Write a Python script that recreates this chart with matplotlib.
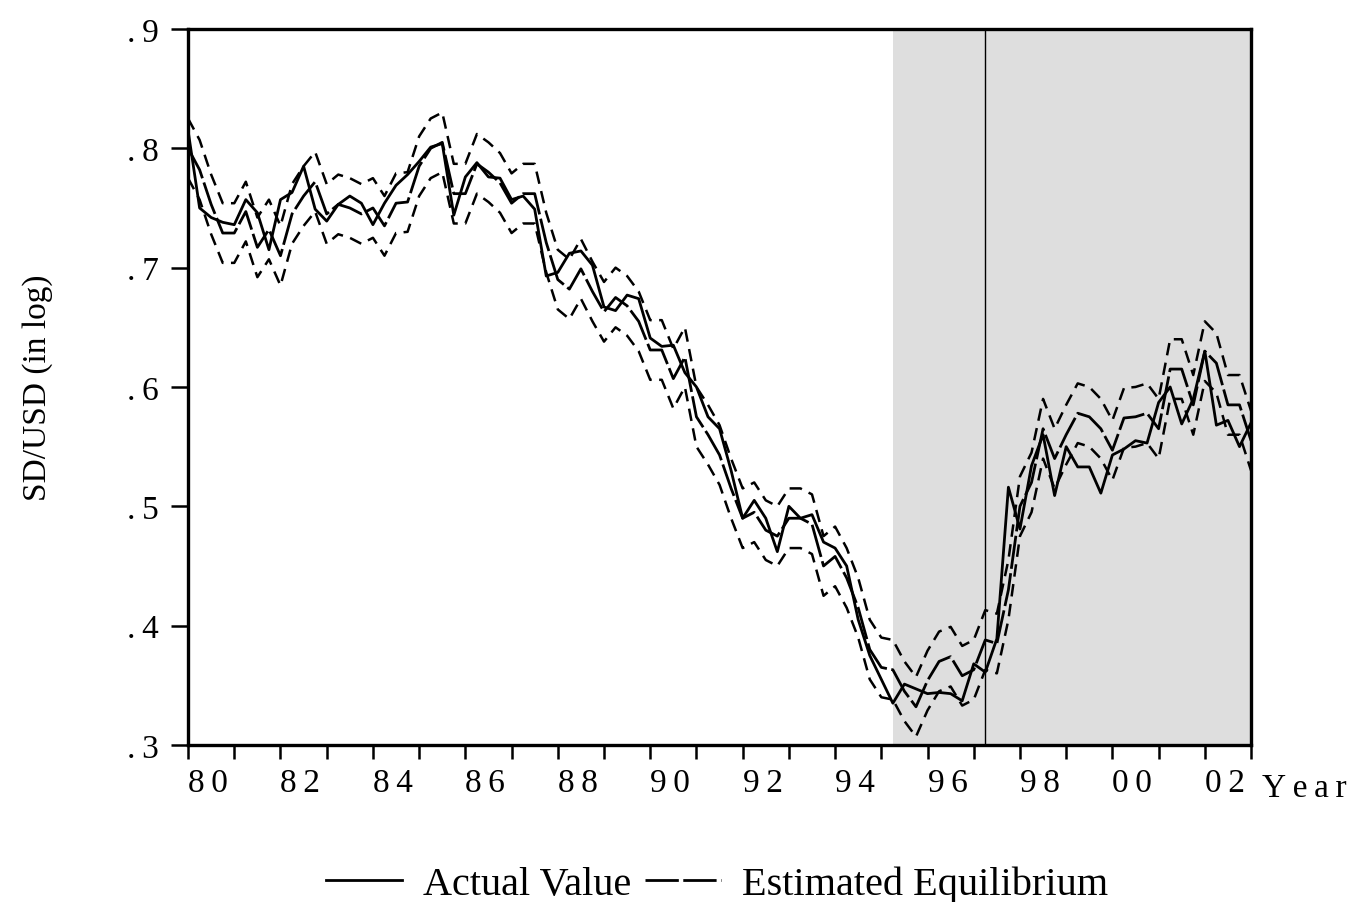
import matplotlib

matplotlib.use("Agg")
import matplotlib.pyplot as plt
import numpy as np

# quarterly observations, 1980Q1 .. 2003Q1
first_year = 1980
n_obs = 93

actual = [
    0.815, 0.750, 0.742, 0.738, 0.736, 0.757, 0.746, 0.715, 0.757, 0.763,
    0.785, 0.749, 0.739, 0.753, 0.760, 0.754, 0.736, 0.754, 0.769, 0.778,
    0.789, 0.801, 0.804, 0.744, 0.776, 0.788, 0.776, 0.775, 0.757, 0.760,
    0.749, 0.693, 0.696, 0.712, 0.714, 0.702, 0.667, 0.664, 0.677, 0.674,
    0.641, 0.634, 0.635, 0.612, 0.600, 0.575, 0.565, 0.530, 0.490, 0.505,
    0.490, 0.462, 0.500, 0.490, 0.493, 0.470, 0.465, 0.450, 0.405, 0.375,
    0.355, 0.335, 0.351, 0.347, 0.343, 0.344, 0.343, 0.337, 0.368, 0.361,
    0.389, 0.516, 0.481, 0.534, 0.560, 0.509, 0.550, 0.533, 0.533, 0.511,
    0.543, 0.548, 0.555, 0.553, 0.587, 0.600, 0.569, 0.590, 0.630, 0.568,
    0.572, 0.550, 0.570,
]

equilibrium = [
    0.800, 0.782, 0.753, 0.729, 0.729, 0.747, 0.717, 0.732, 0.710, 0.745,
    0.760, 0.772, 0.745, 0.753, 0.750, 0.745, 0.750, 0.735, 0.754, 0.755,
    0.785, 0.800, 0.805, 0.762, 0.762, 0.787, 0.780, 0.771, 0.754, 0.762,
    0.762, 0.721, 0.690, 0.682, 0.699, 0.680, 0.663, 0.675, 0.668, 0.655,
    0.631, 0.631, 0.607, 0.625, 0.575, 0.560, 0.543, 0.515, 0.490, 0.495,
    0.480, 0.475, 0.490, 0.490, 0.485, 0.450, 0.458, 0.440, 0.415, 0.380,
    0.365, 0.363, 0.345, 0.332, 0.354, 0.370, 0.374, 0.358, 0.363, 0.388,
    0.385, 0.430, 0.500, 0.520, 0.565, 0.540, 0.560, 0.578, 0.575, 0.565,
    0.547, 0.574, 0.575, 0.578, 0.565, 0.615, 0.615, 0.585, 0.630, 0.620,
    0.585, 0.585, 0.555,
]

upper_band = [
    0.825, 0.807, 0.778, 0.754, 0.754, 0.772, 0.742, 0.757, 0.735, 0.770,
    0.785, 0.797, 0.770, 0.778, 0.775, 0.770, 0.775, 0.760, 0.779, 0.780,
    0.810, 0.825, 0.830, 0.787, 0.787, 0.812, 0.805, 0.796, 0.779, 0.787,
    0.787, 0.746, 0.715, 0.707, 0.724, 0.705, 0.688, 0.700, 0.693, 0.680,
    0.656, 0.656, 0.632, 0.650, 0.600, 0.585, 0.568, 0.540, 0.515, 0.520,
    0.505, 0.500, 0.515, 0.515, 0.510, 0.475, 0.483, 0.465, 0.440, 0.405,
    0.390, 0.388, 0.370, 0.357, 0.379, 0.395, 0.399, 0.383, 0.388, 0.413,
    0.410, 0.455, 0.525, 0.545, 0.590, 0.565, 0.585, 0.603, 0.600, 0.590,
    0.572, 0.599, 0.600, 0.603, 0.590, 0.640, 0.640, 0.610, 0.655, 0.645,
    0.610, 0.610, 0.580,
]

lower_band = [
    0.775, 0.757, 0.728, 0.704, 0.704, 0.722, 0.692, 0.707, 0.685, 0.720,
    0.735, 0.747, 0.720, 0.728, 0.725, 0.720, 0.725, 0.710, 0.729, 0.730,
    0.760, 0.775, 0.780, 0.737, 0.737, 0.762, 0.755, 0.746, 0.729, 0.737,
    0.737, 0.696, 0.665, 0.657, 0.674, 0.655, 0.638, 0.650, 0.643, 0.630,
    0.606, 0.606, 0.582, 0.600, 0.550, 0.535, 0.518, 0.490, 0.465, 0.470,
    0.455, 0.450, 0.465, 0.465, 0.460, 0.425, 0.433, 0.415, 0.390, 0.355,
    0.340, 0.338, 0.320, 0.307, 0.329, 0.345, 0.349, 0.333, 0.338, 0.363,
    0.360, 0.405, 0.475, 0.495, 0.540, 0.515, 0.535, 0.553, 0.550, 0.540,
    0.522, 0.549, 0.550, 0.553, 0.540, 0.590, 0.590, 0.560, 0.605, 0.595,
    0.560, 0.560, 0.530,
]

shade_start = 1995.25
break_date = 1997.25
year_ticks = list(range(1980, 2004))
y_ticks = [0.3, 0.4, 0.5, 0.6, 0.7, 0.8, 0.9]
y_labels = [".3", ".4", ".5", ".6", ".7", ".8", ".9"]

plt.rcParams["font.family"] = ["Liberation Serif", "DejaVu Serif"]

t = first_year + np.arange(n_obs) / 4.0

fig = plt.figure(figsize=(13.5, 9.03), dpi=100)
ax = fig.add_axes([0.1393, 0.1739, 0.7874, 0.7929])

ax.axvspan(shade_start, year_ticks[-1], color="#dedede", lw=0, zorder=0)
ax.axvline(break_date, color="black", lw=1.0, zorder=1)

ax.plot(t, upper_band, color="black", lw=1.8, dashes=(5, 3), zorder=2)
ax.plot(t, lower_band, color="black", lw=1.8, dashes=(5, 3), zorder=2)
(l_eq,) = ax.plot(t, equilibrium, color="black", lw=2.0, dashes=(12, 1.6), zorder=3)
(l_act,) = ax.plot(t, actual, color="black", lw=2.0, zorder=4)

ax.set_xlim(year_ticks[0], year_ticks[-1])
ax.set_ylim(y_ticks[0], y_ticks[-1])

# EViews style: two-digit year labels, left-aligned on the tick, letter spaced
ax.set_xticks(year_ticks)
xlabels = ax.set_xticklabels(
    ["\u2009".join("%02d" % (y % 100)) if y % 2 == 0 and y < 2003 else ""
     for y in year_ticks]
)
for lbl in xlabels:
    lbl.set_horizontalalignment("left")
ax.set_yticks(y_ticks)
ax.set_yticklabels(["\u2009".join(s) for s in y_labels])

for sp in ax.spines.values():
    sp.set_linewidth(2.4)
ax.tick_params(axis="x", direction="out", length=10, width=1.8, pad=6, labelsize=24)
ax.tick_params(axis="y", direction="out", length=12, width=1.8, pad=9, labelsize=24)

ax.set_ylabel("SD/USD (in log)", fontsize=24)
ax.yaxis.set_label_coords(-0.127, 0.5)

fig.text(1262 / 1350, 1 - 789 / 903, "Y\u2009e\u2009a\u2009r", fontsize=24,
         va="center", ha="left")

fig.legend(
    [l_act, l_eq],
    ["Actual Value", "Estimated Equilibrium"],
    loc="center",
    bbox_to_anchor=(0.531, 1 - 885 / 903),
    ncol=2,
    frameon=False,
    fontsize=29,
    handlelength=1.9,
    handletextpad=0.5,
    columnspacing=0.35,
)

fig.savefig("out.png", dpi=100)
